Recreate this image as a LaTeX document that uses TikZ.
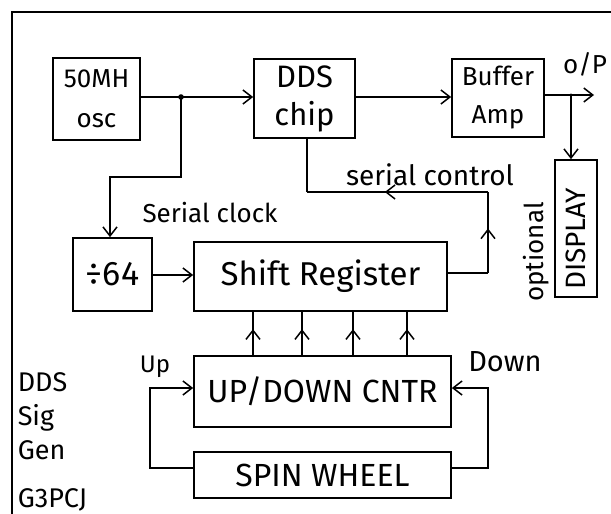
\documentclass[tikz,border=0pt]{standalone}
\usepackage{fontspec}
\setmainfont{Fira Sans}
\usetikzlibrary{arrows.meta,decorations.markings}
\newcommand{\myfs}[2]{\fontsize{#1}{#2}\selectfont}
\begin{document}
\begin{tikzpicture}[x=1pt,y=-1pt,
  line width=1.5pt,
  box/.style={draw, line width=1.7pt, inner sep=0pt, align=center},
  lbl/.style={inner sep=0pt, align=center},
  tip/.style={-{Straight Barb[length=9pt,width=14pt]}},
  midtip/.style={postaction={decorate},decoration={markings,mark=at position #1 with {\arrow{Straight Barb[length=9pt,width=14pt]}}}},
]
\useasboundingbox (0,0) rectangle (611,514);
% frame
\draw[line width=1.3pt] (12,514) -- (12,12) -- (611,12);

% boxes
\node[box, minimum width=87pt, minimum height=82pt, font=\myfs{26}{40}] (osc) at (96.5,99) {50MH\\osc};
\node[box, minimum width=101pt, minimum height=79pt, font=\myfs{31}{38}] (dds) at (304.5,98.5) {DDS\\chip};
\node[box, minimum width=92pt, minimum height=78pt, font=\myfs{26}{38}] (buf) at (498,98) {Buffer\\Amp};
\node[box, minimum width=79pt, minimum height=73pt, font=\myfs{34}{36}] (div) at (112.5,274.5) {÷64};
\node[box, minimum width=253pt, minimum height=69pt, font=\myfs{33}{36}] (sr) at (320.5,276.5) {Shift Register};
\node[box, minimum width=42pt, minimum height=137pt] (disp) at (576,228.5) {};
\node[box, minimum width=257pt, minimum height=71pt, font=\myfs{32}{36}] (cntr) at (322.5,391.5) {UP/DOWN CNTR};
\node[box, minimum width=257pt, minimum height=46pt, font=\myfs{32}{36}] (spin) at (322.5,475) {SPIN WHEEL};

% labels
\node[lbl, rotate=90, font=\myfs{28}{30}] (disptxt) at (576,239) {DISPLAY};
\node[lbl, rotate=90, font=\myfs{26}{30}] (opt) at (536,252) {optional};
\node[lbl, font=\myfs{26}{30}] (optxt) at (585,64) {o/P};
\node[lbl, font=\myfs{28}{30}] (sctl) at (430,175) {serial control};
\node[lbl, font=\myfs{26}{30}] (sclk) at (210,213) {Serial clock};
\node[lbl, font=\myfs{24}{30}] (uptxt) at (155,367) {Up};
\node[lbl, font=\myfs{29}{30}] (dntxt) at (505,362) {Down};
\node[lbl, anchor=west, align=left, font=\myfs{27}{34}] (title) at (17,416) {DDS\\Sig\\Gen};
\node[lbl, anchor=west, font=\myfs{27}{30}] (call) at (17,500) {G3PCJ};

% oscillator to DDS and divider
\coordinate (j) at (181,97);
\draw (osc.east |- j) -- (j);
\draw[tip] (j) -- (dds.west |- j);
\fill (j) circle (2.8pt);
\coordinate (c1) at (110,177);
\draw[tip] (j) |- (c1) -- (c1 |- div.north);

% DDS to buffer
\draw[tip] (dds.east |- j) -- (buf.west |- j);

% output
\coordinate (oj) at (571,95);
\coordinate (o) at (594,95);
\draw (buf.east |- oj) -- (oj);
\draw[tip] (oj) -- (o);
\draw[tip] (oj) -- (oj |- disp.north);
\fill (oj) circle (1.6pt);

% divider to shift register
\draw[tip] (div.east |- 0,275) -- (sr.west |- 0,275);

% serial control
\coordinate (sc1) at (488,273);
\coordinate (sc2) at (488,192);
\coordinate (sc3) at (307,192);
\draw (sr.east |- sc1) -- (sc1);
\draw[midtip=0.55] (sc1) -- (sc2);
\draw[midtip=0.57] (sc2) -- (sc3);
\draw (sc3) -- (sc3 |- dds.south);

% counter to shift register
\foreach \xx/\nm in {253/a,302/b,353/c,407/d}{
  \coordinate (b\nm) at (\xx,356);
  \draw[midtip=0.6] (b\nm |- cntr.north) -- (b\nm |- sr.south);
}

% spin wheel loops
\coordinate (u1) at (150,388);
\coordinate (u2) at (150,468);
\draw[tip] (spin.west |- u2) -- (u2) -- (u1) -- (cntr.west |- u1);
\coordinate (d1) at (488,388);
\coordinate (d2) at (488,468);
\draw[tip] (spin.east |- d2) -- (d2) -- (d1) -- (cntr.east |- d1);
\end{tikzpicture}
\end{document}
